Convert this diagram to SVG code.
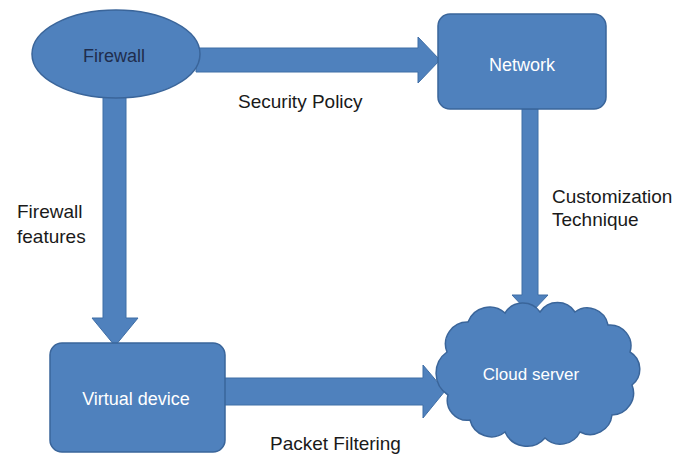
<svg xmlns="http://www.w3.org/2000/svg" width="688" height="457" viewBox="0 0 688 457">
<style>
.shape{fill:#4f81bd;stroke:#3a659a;stroke-width:1.5}
.arrow{fill:#4f81bd;stroke:#3f6ea6;stroke-width:1}
.in{font-family:"Liberation Sans",Arial,sans-serif;font-size:18px;text-anchor:middle;fill:#ffffff}
.lbl{font-family:"Liberation Sans",Arial,sans-serif;font-size:19px;fill:#1a1a1a}
</style>
<rect width="688" height="457" fill="#ffffff"/>
<g id="connectors">
<polygon class="arrow" points="196,48 418,48 418,37 440,60 418,83 418,72 196,72"/>
<polygon class="arrow" points="103,96 126,96 126,318 138,318 115,346 92,318 103,318"/>
<polygon class="arrow" points="522,109 538,109 538,295 548,295 530,314 512,295 522,295"/>
<polygon class="arrow" points="224,378 423,378 423,365 445,391 423,418 423,405 224,405"/>
<text class="lbl" x="238" y="108">Security Policy</text>
<text class="lbl" x="17" y="218">Firewall</text>
<text class="lbl" x="17" y="243">features</text>
<text class="lbl" x="552" y="203">Customization</text>
<text class="lbl" x="552" y="226">Technique</text>
<text class="lbl" x="270" y="450">Packet Filtering</text>
</g>
<g id="firewall">
<ellipse class="shape" cx="116" cy="54" rx="84" ry="44"/>
<text class="in" x="114" y="62" style="fill:#1f2d4d">Firewall</text>
</g>
<g id="network">
<rect class="shape" x="438" y="14" width="168" height="95" rx="12"/>
<text class="in" x="522" y="71">Network</text>
</g>
<g id="virtual-device">
<rect class="shape" x="50" y="343" width="175" height="109" rx="12"/>
<text class="in" x="136" y="405">Virtual device</text>
</g>
<g id="cloud-server">
<path class="shape" d="M447,352 A22,22 0 0 1 468,322 A23,23 0 0 1 505,313 A21,21 0 0 1 540,312 A21,21 0 0 1 575,312 A21,21 0 0 1 608,325 A21,21 0 0 1 630,352 A20,20 0 0 1 632,385 A22,22 0 0 1 612,415 A22,22 0 0 1 580,432 A22,22 0 0 1 545,438 A24,24 0 0 1 505,432 A22,22 0 0 1 470,420 A20,20 0 0 1 448,395 A26,26 0 0 1 447,352 Z"/>
<text class="in" x="531" y="380" style="font-size:17px">Cloud server</text>
</g>
</svg>
